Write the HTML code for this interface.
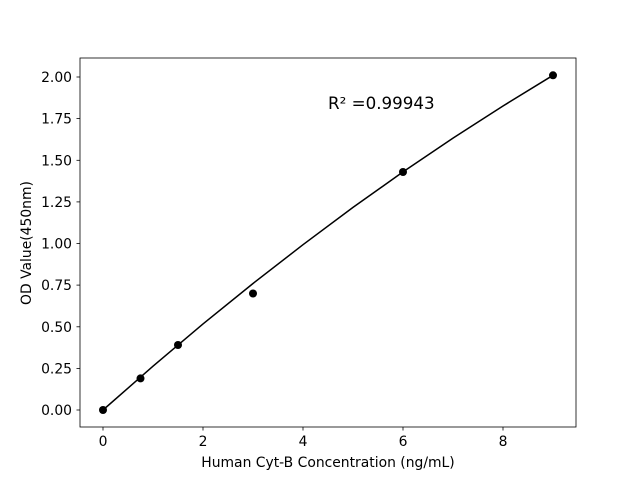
<!DOCTYPE html>
<html><head><style>body{margin:0;background:#fff}</style></head><body>
<svg width="640" height="480" xmlns="http://www.w3.org/2000/svg" font-family="DejaVu Sans, sans-serif" font-size="13.9">
<rect width="640" height="480" fill="#fff"/>
<rect x="80" y="58" width="496" height="369" fill="none" stroke="#000" stroke-width="0.8"/>
<g stroke="#000" stroke-width="0.8">
<line x1="103" y1="427" x2="103" y2="430.5"/><line x1="203" y1="427" x2="203" y2="430.5"/><line x1="303" y1="427" x2="303" y2="430.5"/><line x1="403" y1="427" x2="403" y2="430.5"/><line x1="503" y1="427" x2="503" y2="430.5"/>
<line x1="76.5" y1="410" x2="80" y2="410"/><line x1="76.5" y1="368.4" x2="80" y2="368.4"/><line x1="76.5" y1="326.8" x2="80" y2="326.8"/><line x1="76.5" y1="285.1" x2="80" y2="285.1"/><line x1="76.5" y1="243.5" x2="80" y2="243.5"/><line x1="76.5" y1="201.9" x2="80" y2="201.9"/><line x1="76.5" y1="160.3" x2="80" y2="160.3"/><line x1="76.5" y1="118.6" x2="80" y2="118.6"/><line x1="76.5" y1="77" x2="80" y2="77"/>
</g>
<g text-anchor="middle">
<text x="103" y="446">0</text><text x="203" y="446">2</text><text x="303" y="446">4</text><text x="403" y="446">6</text><text x="503" y="446">8</text>
</g>
<g text-anchor="end">
<text x="72" y="415">0.00</text><text x="72" y="373.4">0.25</text><text x="72" y="331.8">0.50</text><text x="72" y="290.1">0.75</text><text x="72" y="248.5">1.00</text><text x="72" y="206.9">1.25</text><text x="72" y="165.3">1.50</text><text x="72" y="123.6">1.75</text><text x="72" y="82">2.00</text>
</g>
<text x="328" y="467" text-anchor="middle">Human Cyt-B Concentration (ng/mL)</text>
<text transform="translate(31,243) rotate(-90)" text-anchor="middle">OD Value(450nm)</text>
<text x="328" y="109" font-size="16.7">R² =0.99943</text>
<polyline fill="none" stroke="#000" stroke-width="1.5" points="103,410 153,366.2 203,323.9 253,283.5 303,244.7 353,207.4 403,171.9 453,138.1 503,106 553,75.3"/>
<g fill="#000">
<circle cx="103" cy="410" r="4"/><circle cx="140.5" cy="378.4" r="4"/><circle cx="178" cy="345" r="4"/><circle cx="253" cy="293.5" r="4"/><circle cx="403" cy="172" r="4"/><circle cx="553" cy="75.3" r="4"/>
</g>
</svg>
</body></html>
